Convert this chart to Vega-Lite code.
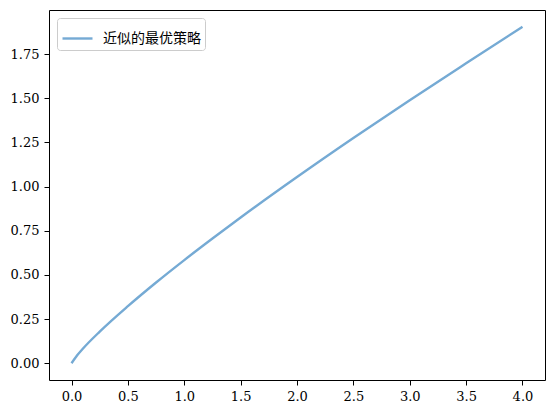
{
  "$schema": "https://vega.github.io/schema/vega-lite/v6.json",
  "width": 496,
  "height": 370,
  "autosize": "none",
  "padding": {"left": 49, "top": 10, "right": 9, "bottom": 33},
  "background": "white",
  "view": {"stroke": "black", "strokeWidth": 1},
  "config": {
    "font": "DejaVu Serif",
    "axis": {
      "grid": false,
      "domain": false,
      "tickColor": "black",
      "tickSize": 5,
      "labelFont": "DejaVu Serif",
      "labelFontSize": 13,
      "labelColor": "black",
      "labelPadding": 5,
      "title": null
    }
  },
  "data": {
    "values": [
      {"x": 0.0, "y": 0.0, "series": "近似的最优策略"},
      {"x": 0.05, "y": 0.045, "series": "近似的最优策略"},
      {"x": 0.1, "y": 0.082, "series": "近似的最优策略"},
      {"x": 0.25, "y": 0.179, "series": "近似的最优策略"},
      {"x": 0.5, "y": 0.323, "series": "近似的最优策略"},
      {"x": 0.75, "y": 0.457, "series": "近似的最优策略"},
      {"x": 1.0, "y": 0.584, "series": "近似的最优策略"},
      {"x": 1.25, "y": 0.706, "series": "近似的最优策略"},
      {"x": 1.5, "y": 0.825, "series": "近似的最优策略"},
      {"x": 2.0, "y": 1.054, "series": "近似的最优策略"},
      {"x": 2.5, "y": 1.275, "series": "近似的最优策略"},
      {"x": 3.0, "y": 1.489, "series": "近似的最优策略"},
      {"x": 3.5, "y": 1.698, "series": "近似的最优策略"},
      {"x": 4.0, "y": 1.905, "series": "近似的最优策略"}
    ]
  },
  "mark": {"type": "line", "strokeWidth": 2.4, "interpolate": "monotone"},
  "encoding": {
    "x": {
      "field": "x",
      "type": "quantitative",
      "scale": {"domain": [-0.2, 4.2], "nice": false, "zero": false},
      "axis": {"values": [0, 0.5, 1, 1.5, 2, 2.5, 3, 3.5, 4], "format": ".1f"}
    },
    "y": {
      "field": "y",
      "type": "quantitative",
      "scale": {"domain": [-0.095, 2.0], "nice": false, "zero": false},
      "axis": {"values": [0, 0.25, 0.5, 0.75, 1, 1.25, 1.5, 1.75], "format": ".2f"}
    },
    "color": {
      "field": "series",
      "type": "nominal",
      "scale": {"range": ["#75aad4"]},
      "legend": {
        "title": null,
        "orient": "top-left",
        "offset": 8,
        "padding": 4,
        "fillColor": "white",
        "strokeColor": "#cccccc",
        "cornerRadius": 3,
        "symbolType": "stroke",
        "symbolSize": 900,
        "symbolStrokeWidth": 2.4,
        "labelFont": "Noto Sans CJK SC",
        "labelFontSize": 14,
        "labelColor": "black",
        "labelOffset": 9
      }
    }
  }
}
